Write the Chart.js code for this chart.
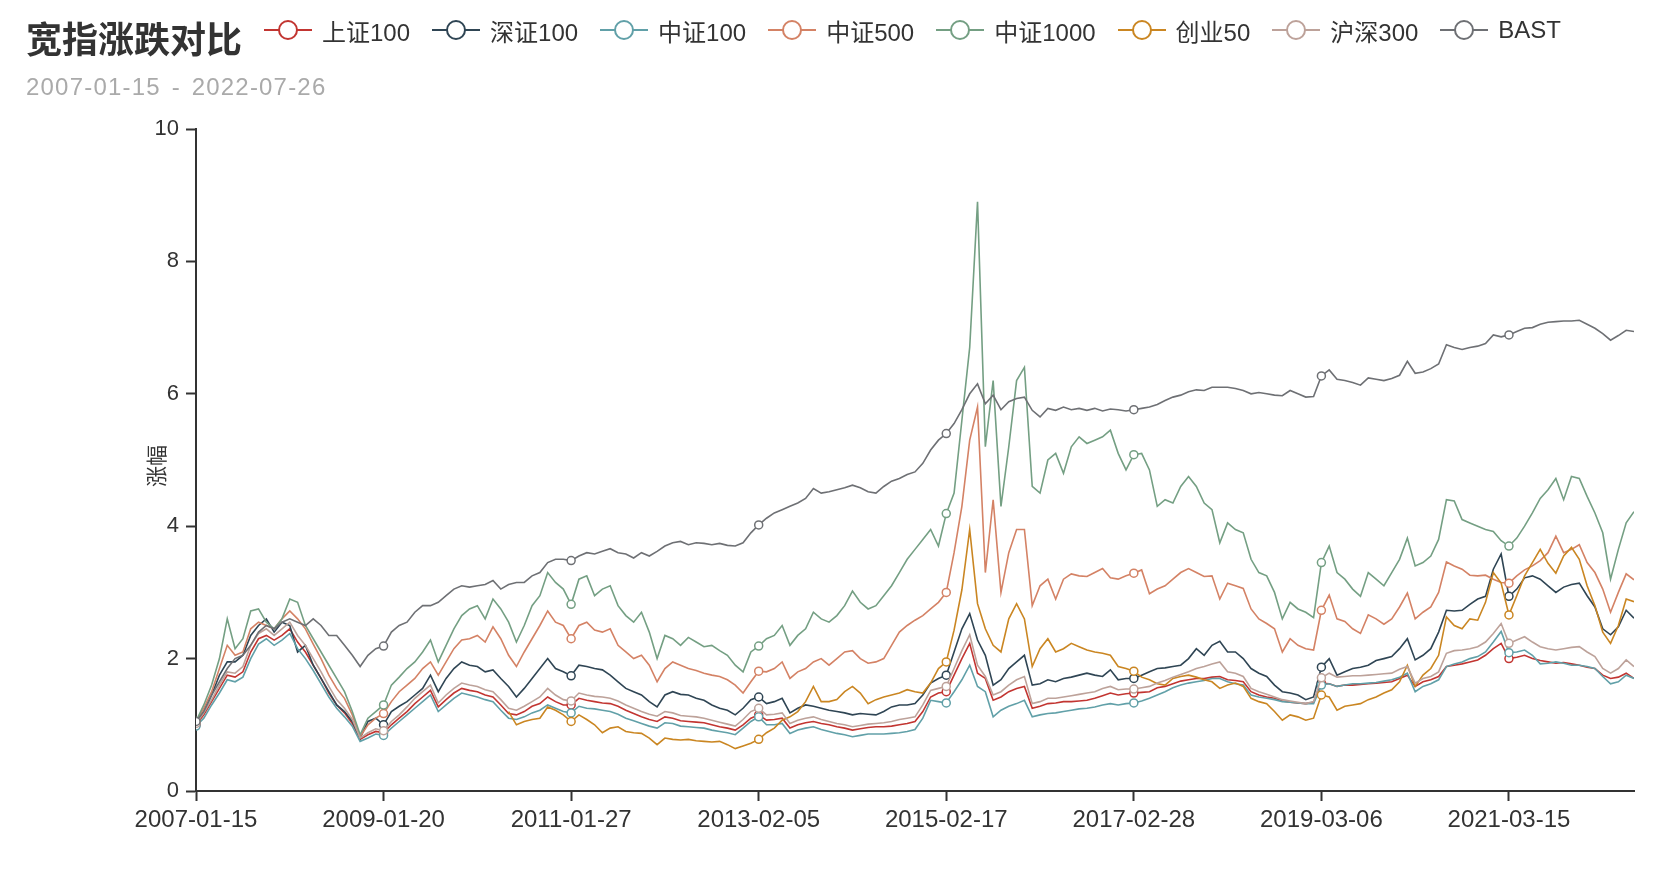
<!DOCTYPE html>
<html>
<head>
<meta charset="utf-8">
<title>宽指涨跌对比</title>
<script src="https://cdn.jsdelivr.net/npm/chart.js@4.4.1/dist/chart.umd.min.js"></script>
<style>
  html, body { margin: 0; padding: 0; background: #fff; }
  #wrap { position: relative; width: 1670px; height: 876px; color: #333;
          font-family: "Liberation Sans", "Noto Sans CJK SC", sans-serif; }
  #chart { position: absolute; left: 0; top: 0; }
  .title { position: absolute; left: 26px; top: 17px; font-size: 36px; line-height: 40px;
           font-weight: bold; font-family: "Noto Sans CJK SC", sans-serif; }
  .subtitle { position: absolute; left: 26px; top: 74px; font-size: 24px; line-height: 26px; color: #aaa;
              word-spacing: 3px; letter-spacing: 1.2px; }
  #legend { position: absolute; left: 264px; top: 15px; height: 30px; display: flex; align-items: center; }
  .item { display: flex; align-items: center; margin-right: 22px; font-size: 24px; white-space: nowrap; }
  .icon { position: relative; width: 48px; height: 22px; margin-right: 10px; }
  .icon .ln { position: absolute; left: 0; right: 0; top: 10px; height: 2px; }
  .icon .dot { position: absolute; left: 14px; top: 1px; width: 16px; height: 16px;
               border: 2px solid; border-radius: 50%; background: #fff; }
  .ytitle { position: absolute; left: 155px; top: 466px; font-size: 21px;
            transform: translate(-50%, -50%) rotate(-90deg); white-space: nowrap; }
</style>
</head>
<body>
<div id="wrap">
  <canvas id="chart" width="1670" height="876" style="width:1670px;height:876px"></canvas>
  <div class="title">宽指涨跌对比</div>
  <div class="subtitle">2007-01-15 - 2022-07-26</div>
  <div id="legend"></div>
  <div class="ytitle">涨幅</div>
</div>
<script>
(function () {
  "use strict";

  // ---- data (roughly one point per month) ----
  const TICK_STEP = 24;
  const TICK_LABELS = ["2007-01-15", "2009-01-20", "2011-01-27", "2013-02-05",
                       "2015-02-17", "2017-02-28", "2019-03-06", "2021-03-15"];

  const SERIES_NAMES  = ["上证100", "深证100", "中证100", "中证500", "中证1000", "创业50", "沪深300", "BAST"];
  const SERIES_COLORS = ["#c23531", "#2f4554", "#61a0a8", "#d48265", "#749f83", "#ca8622", "#bda29a", "#6e7074"];

  const SH100 = [
    1.0, 1.15, 1.35, 1.55, 1.75, 1.72, 1.8, 2.1, 2.3, 2.35,
    2.28, 2.35, 2.45, 2.25, 2.1, 1.9, 1.7, 1.48, 1.3, 1.18,
    1.02, 0.78, 0.85, 0.9, 0.88, 1.0, 1.1, 1.2, 1.32, 1.42,
    1.52, 1.27, 1.38, 1.48, 1.55, 1.52, 1.5, 1.45, 1.42, 1.3,
    1.17, 1.15, 1.2, 1.28, 1.32, 1.42, 1.35, 1.3, 1.3, 1.4,
    1.37, 1.35, 1.33, 1.32, 1.28, 1.22, 1.17, 1.12, 1.08, 1.05,
    1.12, 1.1, 1.06, 1.05, 1.04, 1.03, 1.0, 0.97, 0.95, 0.92,
    1.0, 1.1, 1.15, 1.07, 1.08, 1.1, 0.95, 1.0, 1.03, 1.05,
    1.02, 1.0, 0.97, 0.95, 0.92, 0.94, 0.96, 0.97, 0.97, 0.98,
    1.0, 1.02, 1.05, 1.2, 1.42, 1.48, 1.5, 1.75, 2.0, 2.23,
    1.78, 1.7, 1.37, 1.42, 1.5, 1.55, 1.58, 1.25, 1.28, 1.32,
    1.33, 1.35, 1.35, 1.36, 1.37, 1.4, 1.44, 1.48, 1.45, 1.47,
    1.48, 1.49, 1.5, 1.56, 1.58, 1.62, 1.66, 1.68, 1.7, 1.7,
    1.72, 1.73, 1.68, 1.67, 1.65, 1.5, 1.45, 1.42, 1.4, 1.36,
    1.34, 1.33, 1.32, 1.34, 1.63, 1.62, 1.58, 1.6, 1.6, 1.61,
    1.62, 1.63, 1.64, 1.65, 1.7, 1.75, 1.58, 1.65, 1.68, 1.73,
    1.88, 1.9, 1.92, 1.95, 1.98, 2.05, 2.15, 2.23, 2.0, 2.02,
    2.05, 2.0, 1.97, 1.95, 1.93, 1.94, 1.92, 1.9, 1.87, 1.85,
    1.75, 1.7, 1.72, 1.78, 1.7
  ];

  const SZ100 = [
    1.02, 1.2, 1.45, 1.75, 1.95, 1.95, 2.05, 2.35, 2.5, 2.6,
    2.4, 2.55, 2.5, 2.1, 2.2, 1.9, 1.7, 1.5, 1.3, 1.2,
    1.05, 0.8, 1.05, 1.1, 1.0, 1.2, 1.28, 1.35, 1.45, 1.55,
    1.75, 1.5, 1.7, 1.85, 1.95, 1.9, 1.88, 1.8, 1.83, 1.7,
    1.58, 1.42, 1.55, 1.7, 1.85, 2.0, 1.85, 1.8, 1.74, 1.9,
    1.88, 1.85, 1.83, 1.75, 1.65, 1.55, 1.5, 1.45, 1.35, 1.27,
    1.45, 1.5, 1.46, 1.45, 1.4, 1.37, 1.3, 1.25, 1.22, 1.15,
    1.25, 1.38, 1.42, 1.32, 1.35, 1.4, 1.18, 1.25, 1.3, 1.28,
    1.25, 1.22, 1.2, 1.18, 1.15, 1.17, 1.16, 1.15, 1.2, 1.27,
    1.3, 1.3, 1.32, 1.45, 1.63, 1.7, 1.75, 2.1, 2.45, 2.68,
    2.28, 2.05, 1.6, 1.68, 1.85, 1.95, 2.05, 1.6, 1.62, 1.68,
    1.65, 1.7, 1.72, 1.75, 1.78, 1.75, 1.73, 1.83, 1.68, 1.7,
    1.7, 1.75, 1.8, 1.85, 1.86, 1.88, 1.9, 2.0, 2.15, 2.05,
    2.2, 2.26, 2.1, 2.1, 2.0, 1.85, 1.78, 1.73, 1.6, 1.5,
    1.48, 1.45, 1.38, 1.42, 1.87, 2.0, 1.75, 1.8, 1.85, 1.87,
    1.9, 1.97, 2.0, 2.03, 2.15, 2.3, 1.98, 2.05, 2.15, 2.4,
    2.73, 2.72, 2.73, 2.82, 2.9, 2.94, 3.35, 3.58, 2.94, 3.05,
    3.22, 3.25, 3.2, 3.1, 3.0, 3.08, 3.12, 3.14, 2.95, 2.78,
    2.45, 2.36, 2.48, 2.73, 2.61
  ];

  const CSI100 = [
    0.98, 1.1, 1.3, 1.48, 1.68, 1.65, 1.72, 2.0, 2.22, 2.3,
    2.2, 2.28, 2.38, 2.15, 2.0, 1.82, 1.62, 1.42, 1.25, 1.12,
    0.98, 0.75, 0.8, 0.86, 0.84, 0.95, 1.05, 1.15, 1.25, 1.35,
    1.45, 1.2, 1.3, 1.4, 1.48, 1.45, 1.42, 1.38, 1.35, 1.22,
    1.1, 1.08, 1.12, 1.18, 1.22, 1.3, 1.25, 1.2, 1.18, 1.28,
    1.25, 1.24, 1.22, 1.2, 1.16, 1.1, 1.06, 1.02, 0.98, 0.95,
    1.03, 1.02, 0.98, 0.97, 0.96, 0.95, 0.92, 0.9, 0.88, 0.85,
    0.95, 1.05, 1.12, 1.0, 1.0, 1.02, 0.87, 0.92, 0.95, 0.97,
    0.93, 0.9, 0.87, 0.85, 0.82, 0.84, 0.86, 0.86, 0.86, 0.87,
    0.88, 0.9, 0.93, 1.1, 1.37, 1.35, 1.33, 1.5, 1.68, 1.9,
    1.58, 1.5, 1.12, 1.22, 1.28, 1.32, 1.37, 1.12, 1.15, 1.17,
    1.18, 1.2, 1.22, 1.24, 1.25, 1.27, 1.3, 1.32, 1.3, 1.32,
    1.33, 1.36, 1.4, 1.45, 1.5, 1.56, 1.6, 1.63, 1.65, 1.67,
    1.7, 1.7, 1.65, 1.62, 1.6, 1.45, 1.42, 1.4, 1.38, 1.35,
    1.34, 1.33, 1.32, 1.32, 1.6, 1.62, 1.58, 1.6, 1.62, 1.62,
    1.63, 1.64, 1.66, 1.68, 1.72, 1.78, 1.5, 1.58, 1.62, 1.68,
    1.88, 1.92, 1.95, 2.0, 2.03, 2.1, 2.25, 2.41, 2.09, 2.1,
    2.13, 2.05, 1.92, 1.93, 1.95, 1.93, 1.9, 1.9, 1.88, 1.85,
    1.73, 1.62, 1.65, 1.75, 1.7
  ];

  const CSI500 = [
    1.05, 1.25, 1.5, 1.85, 2.2, 2.05, 2.1, 2.45, 2.55, 2.5,
    2.45, 2.6, 2.72, 2.6, 2.45, 2.22, 2.0, 1.75, 1.55, 1.4,
    1.15, 0.82, 1.0, 1.1, 1.17, 1.35, 1.5, 1.6, 1.7, 1.85,
    1.95, 1.75, 1.95, 2.15, 2.28, 2.3, 2.35, 2.25, 2.48, 2.3,
    2.05, 1.88, 2.1, 2.3, 2.5, 2.72, 2.55, 2.5, 2.3, 2.5,
    2.55, 2.43, 2.4, 2.45, 2.2, 2.1, 2.0, 2.05, 1.9, 1.65,
    1.85, 1.95, 1.9, 1.85, 1.82, 1.78, 1.75, 1.73, 1.68, 1.6,
    1.48, 1.65, 1.81, 1.8, 1.85, 1.95, 1.7, 1.8, 1.85, 1.95,
    2.0, 1.9, 2.0, 2.1, 2.12, 2.0, 1.93, 1.95, 2.0, 2.2,
    2.4, 2.5, 2.58, 2.65, 2.75, 2.85, 3.0, 3.6, 4.3, 5.3,
    5.8, 3.3, 4.4, 3.0, 3.6, 3.95, 3.95, 2.8, 3.1, 3.2,
    2.9, 3.2, 3.28, 3.25, 3.24, 3.3, 3.36, 3.22, 3.2, 3.25,
    3.29, 3.34, 2.98, 3.05, 3.1, 3.2, 3.3, 3.36, 3.3, 3.24,
    3.25, 2.9, 3.14, 3.1, 3.06, 2.75, 2.6, 2.53, 2.45, 2.1,
    2.3, 2.2, 2.15, 2.13, 2.73, 2.96, 2.6, 2.56, 2.45, 2.38,
    2.66, 2.6, 2.52, 2.6, 2.78, 2.99, 2.6, 2.7, 2.78, 3.0,
    3.46, 3.4, 3.35, 3.26, 3.25, 3.26, 3.2, 3.15, 3.14, 3.25,
    3.34, 3.4, 3.48, 3.6, 3.85, 3.6, 3.65, 3.72, 3.45, 3.3,
    3.05, 2.7, 3.0, 3.28, 3.19
  ];

  const CSI1000 = [
    1.05, 1.3, 1.6, 2.0, 2.6, 2.15, 2.3, 2.72, 2.75, 2.55,
    2.45, 2.6, 2.9, 2.85, 2.5, 2.3, 2.1, 1.9, 1.7, 1.5,
    1.2, 0.85, 1.1, 1.2, 1.3, 1.6, 1.72, 1.85, 1.95, 2.1,
    2.28, 1.95, 2.2, 2.45, 2.65, 2.75, 2.8, 2.6, 2.9, 2.75,
    2.55, 2.25, 2.5, 2.8, 2.95, 3.3, 3.15, 3.05, 2.82, 3.2,
    3.25, 2.95, 3.05, 3.1, 2.8, 2.65, 2.55, 2.7, 2.4, 2.0,
    2.35, 2.3, 2.2, 2.32, 2.25, 2.18, 2.2, 2.12, 2.05, 1.9,
    1.8, 2.1, 2.19, 2.3, 2.35, 2.5, 2.2, 2.35, 2.45, 2.7,
    2.6, 2.55, 2.65, 2.8, 3.02, 2.85, 2.75, 2.8, 2.95, 3.1,
    3.3, 3.5, 3.65, 3.8, 3.95, 3.7, 4.19, 4.5, 5.6, 6.7,
    8.9, 5.2, 6.2, 4.3, 5.2, 6.2, 6.4, 4.6, 4.5, 5.0,
    5.1, 4.8, 5.2, 5.35, 5.25, 5.3, 5.35, 5.45, 5.1, 4.85,
    5.08, 5.1, 4.85, 4.3, 4.4, 4.35, 4.6, 4.75, 4.6, 4.35,
    4.25, 3.75, 4.05, 3.95, 3.9, 3.5, 3.3, 3.25, 3.0, 2.6,
    2.85, 2.75, 2.7, 2.62, 3.45, 3.7, 3.3, 3.2, 3.05, 2.94,
    3.3, 3.2, 3.1, 3.3, 3.5, 3.82, 3.4, 3.45, 3.55, 3.8,
    4.4, 4.38, 4.1, 4.05, 4.0, 3.95, 3.92, 3.78, 3.7, 3.82,
    4.0, 4.2, 4.42, 4.55, 4.72, 4.4, 4.75, 4.72, 4.45, 4.2,
    3.9, 3.2, 3.65, 4.05, 4.22
  ];

  // 创业50 starts in 2010, nothing before that
  const GEM50 = [
    null, null, null, null, null, null, null, null, null, null,
    null, null, null, null, null, null, null, null, null, null,
    null, null, null, null, null, null, null, null, null, null,
    null, null, null, null, null, null, null, null, null, null,
    1.2, 1.0, 1.05, 1.08, 1.1, 1.27, 1.22, 1.15, 1.05, 1.15,
    1.08, 1.0, 0.88, 0.95, 0.97, 0.9, 0.88, 0.87, 0.8, 0.7,
    0.8, 0.78, 0.77, 0.78, 0.76, 0.75, 0.74, 0.75, 0.7, 0.64,
    0.68, 0.72, 0.78, 0.88, 0.95, 1.07, 1.12, 1.2, 1.35, 1.58,
    1.35, 1.35, 1.38, 1.5, 1.58, 1.48, 1.32, 1.38, 1.42, 1.45,
    1.48, 1.53, 1.5, 1.48, 1.63, 1.85, 1.95, 2.43, 3.04, 3.95,
    2.83, 2.45, 2.2, 2.1, 2.6, 2.83, 2.6, 1.88, 2.15, 2.3,
    2.1, 2.15, 2.23, 2.18, 2.13, 2.1, 2.08, 2.05, 1.88, 1.85,
    1.81, 1.72, 1.68, 1.62, 1.6, 1.7, 1.73, 1.75, 1.72, 1.68,
    1.65, 1.55, 1.6, 1.63, 1.58, 1.4, 1.35, 1.32, 1.2, 1.07,
    1.15, 1.12, 1.07, 1.1, 1.45, 1.42, 1.22, 1.28, 1.3, 1.32,
    1.38, 1.42, 1.48, 1.53, 1.65, 1.9, 1.58, 1.75, 1.85, 2.05,
    2.63, 2.5, 2.45, 2.6, 2.58, 2.85, 3.3, 3.14, 2.66, 2.95,
    3.25, 3.45, 3.65, 3.44, 3.29, 3.55, 3.68, 3.5, 3.1, 2.8,
    2.4, 2.23, 2.5, 2.9, 2.86
  ];

  const HS300 = [
    1.02, 1.18, 1.38, 1.6, 1.8, 1.78, 1.88, 2.2, 2.38, 2.45,
    2.35, 2.45, 2.55, 2.35, 2.2, 2.0, 1.8, 1.58, 1.38, 1.25,
    1.08, 0.8, 0.88, 0.94, 0.91, 1.05, 1.15, 1.27, 1.4, 1.5,
    1.6, 1.33, 1.45, 1.55, 1.63, 1.6, 1.58, 1.53, 1.5, 1.38,
    1.25, 1.22, 1.28, 1.35, 1.42, 1.55, 1.45, 1.38, 1.36, 1.48,
    1.45, 1.43, 1.42, 1.4, 1.36, 1.3, 1.25, 1.2, 1.16, 1.13,
    1.2, 1.18, 1.14, 1.13, 1.12, 1.1, 1.07, 1.04, 1.01, 0.98,
    1.08, 1.2, 1.25, 1.15, 1.16, 1.18, 1.02, 1.07, 1.1, 1.12,
    1.08, 1.05, 1.02, 1.0, 0.97, 0.99, 1.01, 1.02, 1.03, 1.05,
    1.08, 1.1, 1.12, 1.3, 1.52, 1.55, 1.58, 1.85, 2.12, 2.36,
    1.9, 1.73, 1.45, 1.5, 1.6, 1.68, 1.73, 1.32, 1.35, 1.4,
    1.4, 1.42, 1.44, 1.46, 1.48, 1.5, 1.55, 1.58, 1.53, 1.54,
    1.54, 1.56, 1.58, 1.63, 1.67, 1.72, 1.76, 1.8, 1.85, 1.88,
    1.92, 1.95, 1.8, 1.78, 1.73, 1.55, 1.5, 1.46, 1.42, 1.38,
    1.36, 1.34, 1.32, 1.35, 1.71, 1.78, 1.72, 1.73, 1.74, 1.74,
    1.75, 1.76, 1.77, 1.78, 1.84, 1.88, 1.63, 1.7, 1.73, 1.8,
    2.08, 2.12, 2.13, 2.15, 2.18, 2.25, 2.38, 2.53, 2.23, 2.28,
    2.33, 2.25, 2.18, 2.15, 2.13, 2.15, 2.17, 2.18, 2.1, 2.03,
    1.85, 1.78, 1.85, 1.98, 1.88
  ];

  const BAST = [
    1.05, 1.2, 1.45, 1.65, 1.85, 2.0, 2.05, 2.2, 2.4, 2.5,
    2.45, 2.55, 2.6, 2.55, 2.5, 2.6, 2.5, 2.35, 2.35, 2.2,
    2.05, 1.88, 2.05, 2.15, 2.19, 2.4, 2.5, 2.55, 2.7, 2.8,
    2.8, 2.85, 2.95, 3.05, 3.1, 3.08, 3.1, 3.12, 3.18, 3.05,
    3.12, 3.15, 3.15, 3.25, 3.3, 3.45, 3.5, 3.5, 3.48, 3.55,
    3.6, 3.58, 3.62, 3.66, 3.6, 3.58, 3.52, 3.6, 3.55, 3.62,
    3.7, 3.75, 3.77, 3.72, 3.75, 3.74, 3.72, 3.74, 3.71, 3.7,
    3.75, 3.9, 4.02, 4.12, 4.2, 4.25, 4.3, 4.35, 4.42, 4.57,
    4.5, 4.52, 4.55, 4.58, 4.62, 4.58, 4.52, 4.5, 4.6, 4.68,
    4.72, 4.78, 4.82, 4.95, 5.15, 5.3, 5.4, 5.55, 5.76, 6.0,
    6.15, 5.85, 5.98, 5.76, 5.88, 5.93, 5.95, 5.75, 5.65, 5.78,
    5.75, 5.8, 5.76, 5.78, 5.75, 5.78, 5.74, 5.77, 5.76, 5.74,
    5.76, 5.78, 5.8, 5.84, 5.9, 5.95, 5.98, 6.03, 6.06, 6.05,
    6.1, 6.1, 6.1, 6.08, 6.05, 6.0, 6.02, 6.0, 5.98, 5.97,
    6.05, 6.0, 5.95, 5.96, 6.27, 6.36, 6.22, 6.2, 6.17, 6.13,
    6.24, 6.22, 6.2, 6.23, 6.28, 6.49, 6.31, 6.33, 6.38, 6.45,
    6.74, 6.7, 6.67, 6.7, 6.72, 6.76, 6.89, 6.86, 6.89, 6.94,
    6.99, 7.0, 7.05, 7.08, 7.09, 7.1, 7.1, 7.11, 7.05, 6.99,
    6.91, 6.81, 6.88, 6.96, 6.94
  ];

  const SERIES_VALUES = [SH100, SZ100, CSI100, CSI500, CSI1000, GEM50, HS300, BAST];

  const FONT = "'Liberation Sans', 'Noto Sans CJK SC', sans-serif";
  const AXIS = "#333";

  // ---- legend (html, line + hollow circle like the original) ----
  const legend = document.getElementById("legend");
  SERIES_NAMES.forEach((name, k) => {
    const item = document.createElement("div");
    item.className = "item";
    const c = SERIES_COLORS[k];
    item.innerHTML =
      `<span class="icon"><span class="ln" style="background:${c}"></span>` +
      `<span class="dot" style="border-color:${c}"></span></span><span>${name}</span>`;
    legend.appendChild(item);
  });

  // ---- chart ----
  const lastIdx = SH100.length - 1;

  const datasets = SERIES_VALUES.map((vals, k) => ({
    label: SERIES_NAMES[k],
    data: vals.map((v, i) => ({ x: i, y: v })),
    borderColor: SERIES_COLORS[k],
    borderWidth: 1.6,
    tension: 0,
    spanGaps: false,
    pointRadius: ctx => (ctx.dataIndex % TICK_STEP === 0 ? 4 : 0),
    pointHoverRadius: 0,
    pointBackgroundColor: "#fff",
    pointBorderColor: SERIES_COLORS[k],
    pointBorderWidth: 1.5,
    order: SERIES_VALUES.length - 1 - k   // later series drawn on top
  }));

  new Chart(document.getElementById("chart"), {
    type: "line",
    data: { datasets },
    options: {
      responsive: false,
      animation: false,
      events: [],
      layout: { padding: { top: 129, right: 36, bottom: 0, left: 0 } },
      plugins: { legend: { display: false }, tooltip: { enabled: false } },
      scales: {
        x: {
          type: "linear",
          min: 0,
          max: lastIdx,
          afterBuildTicks: s => { s.ticks = TICK_LABELS.map((_, j) => ({ value: j * TICK_STEP })); },
          afterFit: s => { s.height = 85; },
          ticks: {
            callback: v => TICK_LABELS[v / TICK_STEP],
            autoSkip: false, maxRotation: 0, padding: 5,
            color: AXIS, font: { family: FONT, size: 24 }
          },
          grid: { drawOnChartArea: false, drawTicks: true, tickLength: 10, tickColor: AXIS, tickWidth: 2 },
          border: { color: AXIS, width: 2 }
        },
        y: {
          min: 0,
          max: 10,
          afterFit: s => { s.width = 196; },
          ticks: { stepSize: 2, padding: 7, color: AXIS, font: { family: FONT, size: 22 } },
          grid: { drawOnChartArea: false, drawTicks: true, tickLength: 10, tickColor: AXIS, tickWidth: 2 },
          border: { color: AXIS, width: 2 }
        }
      }
    }
  });
})();
</script>
</body>
</html>
